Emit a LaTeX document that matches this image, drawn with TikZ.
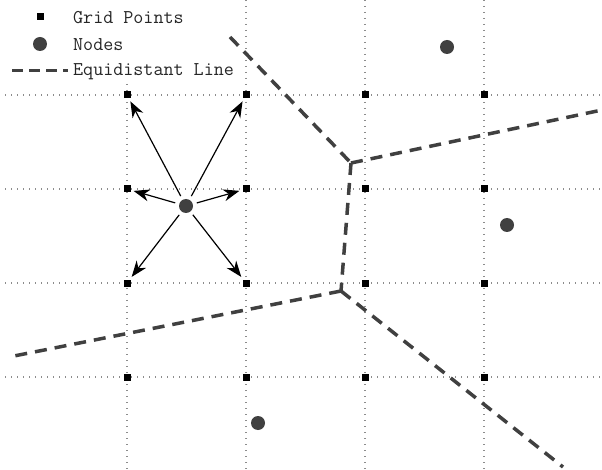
\documentclass[tikz,border=0pt]{standalone}
\usetikzlibrary{positioning,arrows.meta}

\begin{document}
\begin{tikzpicture}[x=1pt,y=-1pt,
	gridpt/.style={rectangle,fill=black,inner sep=0pt,minimum size=7pt},
	site/.style={circle,fill=black!75,inner sep=0pt,minimum size=14pt},
	gridline/.style={draw=black!45,line width=1.2pt,dash pattern=on 1.2pt off 4.8pt},
	equiline/.style={draw=black!75,line width=3.5pt,dash pattern=on 12pt off 8pt},
	pull/.style={-{Stealth[length=16pt,width=12pt,inset=5pt]},line width=1.2pt,shorten <=4pt,shorten >=3pt},
	legtext/.style={font=\ttfamily\fontsize{19.5}{22}\selectfont,text=black!85,inner sep=0pt,anchor=west}]
	\useasboundingbox (0,0) rectangle (602,470);
	% grid
	\foreach \x in {127,246,365,484} \draw[gridline] (\x,0) -- (\x,470);
	\foreach \y in {95,189,283,377} \draw[gridline] (5,\y) -- (602,\y);
	\fill[white] (0,0) rectangle (240,83);
	\foreach \i in {1,...,4}
		\foreach \j in {1,...,4}
			\node[gridpt] (g\i\j) at ({127+119*(\i-1)},{95+94*(\j-1)}) {};
	% nodes
	\node[site] (n1) at (186,206) {};
	\node[site] (n2) at (447,47) {};
	\node[site] (n3) at (507,225) {};
	\node[site] (n4) at (258,423) {};
	% equidistant lines
	\coordinate (top) at (351,163);
	\coordinate (bot) at (341,291);
	\coordinate (e1) at (230,37);
	\coordinate (e2) at (602,110);
	\coordinate (e3) at (14,356);
	\coordinate (e4) at (563,467);
	\draw[equiline] (e1) -- (top);
	\draw[equiline] (top) -- (e2);
	\draw[equiline] (top) -- (bot);
	\draw[equiline] (bot) -- (e3);
	\draw[equiline] (bot) -- (e4);
	% arrows
	\foreach \g in {11,21,12,22,13,23}
		\draw[pull] (n1) -- (g\g);
	% legend
	\node[gridpt] (lgrid) at (40,17) {};
	\node[legtext] (tgrid) at (73,18) {Grid Points};
	\node[site] (lsite) at (40,44) {};
	\node[legtext] (tsite) at (73,45) {Nodes};
	\coordinate (la) at (12,71);
	\coordinate (lb) at (68,71);
	\draw[equiline,line width=3pt,dash pattern=on 11pt off 6pt] (la) -- (lb);
	\node[legtext] (tline) at (73,72) {Equidistant Line};
\end{tikzpicture}
\end{document}
